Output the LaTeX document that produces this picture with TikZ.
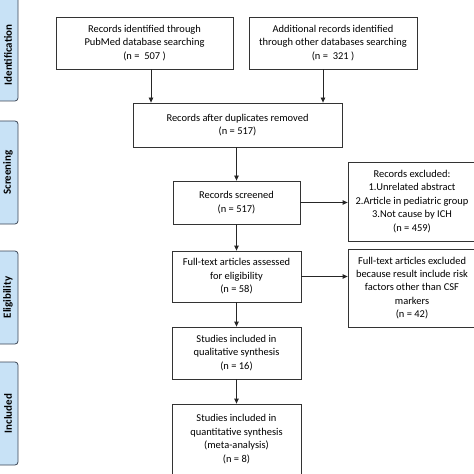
\documentclass[tikz,border=0pt]{standalone}
\usepackage{fontspec}
\setmainfont{Carlito}
\usetikzlibrary{arrows.meta}
\definecolor{barfill}{RGB}{200,226,246}
\definecolor{barline}{RGB}{60,70,85}
\tikzset{
  box/.style={draw=black!80, line width=0.8pt, fill=white, inner sep=0pt, align=center, font=\fontsize{10.5}{13.5}\selectfont},
  bar/.style={draw=barline, line width=0.8pt, fill=barfill, rounded corners=3bp},
  barlabel/.style={rotate=90, font=\bfseries\fontsize{11}{13}\selectfont},
  arr/.style={-{Triangle[length=5bp,width=4.5bp]}, line width=0.8pt, black!85},
}
\begin{document}
\begin{tikzpicture}[x=1bp,y=-1bp]
\useasboundingbox (0,0) rectangle (474,474);
% side bars
\draw[bar] (-8,-8) rectangle (18,101);
\node[barlabel] (lid) at (8,55) {Identification};
\draw[bar] (-8,121) rectangle (18,224);
\node[barlabel] (lsc) at (8,172.5) {Screening};
\draw[bar] (-8,251) rectangle (18,344);
\node[barlabel] (lel) at (8,297.5) {Eligibility};
\draw[bar] (-8,362) rectangle (18,465);
\node[barlabel] (lin) at (8,413.5) {Included};
% boxes
\node[box, minimum width=177bp, minimum height=52bp] (b1) at (144.5,43) {Records identified through\\PubMed database searching\\(n =~ 507 )};
\node[box, minimum width=168bp, minimum height=52bp] (b2) at (333,43) {Additional records identified\\through other databases searching\\(n =~ 321 )};
\node[box, minimum width=209bp, minimum height=44bp] (b3) at (237.5,125) {Records after duplicates removed\\(n = 517)};
\node[box, minimum width=127bp, minimum height=43bp] (b4) at (236.5,202.5) {Records screened\\(n = 517)};
\node[box, minimum width=128bp, minimum height=79bp] (e1) at (412,201.5) {Records excluded:\\1.Unrelated abstract\\2.Article in pediatric group\\3.Not cause by ICH\\(n = 459)};
\node[box, minimum width=129bp, minimum height=51bp] (b5) at (236.5,276.5) {Full-text articles assessed\\for eligibility\\(n = 58)};
\node[box, minimum width=128bp, minimum height=78bp] (e2) at (412,288) {Full-text articles excluded\\because result include risk\\factors other than CSF\\markers\\(n = 42)};
\node[box, minimum width=129bp, minimum height=52bp] (b6) at (236.5,353) {Studies included in\\qualitative synthesis\\(n = 16)};
\node[box, minimum width=129bp, minimum height=80bp, text depth=0pt] (b7) at (236.5,444) {};
\node[align=center, font=\fontsize{10.5}{13.5}\selectfont, anchor=north] (b7t) at (236.5,411) {Studies included in\\quantitative synthesis\\(meta-analysis)\\(n = 8)};
% arrows
\draw[arr] (b1.south -| 151,0) -- (b3.north -| 151,0);
\draw[arr] (b2.south -| 323,0) -- (b3.north -| 323,0);
\draw[arr] (b3.south -| b4.north) -- (b4.north);
\draw[arr] (b4.east) -- (e1.west |- b4.east);
\draw[arr] (b4.south) -- (b5.north);
\draw[arr] (b5.east) -- (e2.west |- b5.east);
\draw[arr] (b5.south) -- (b6.north);
\draw[arr] (b6.south) -- (b7.north);
\end{tikzpicture}
\end{document}
